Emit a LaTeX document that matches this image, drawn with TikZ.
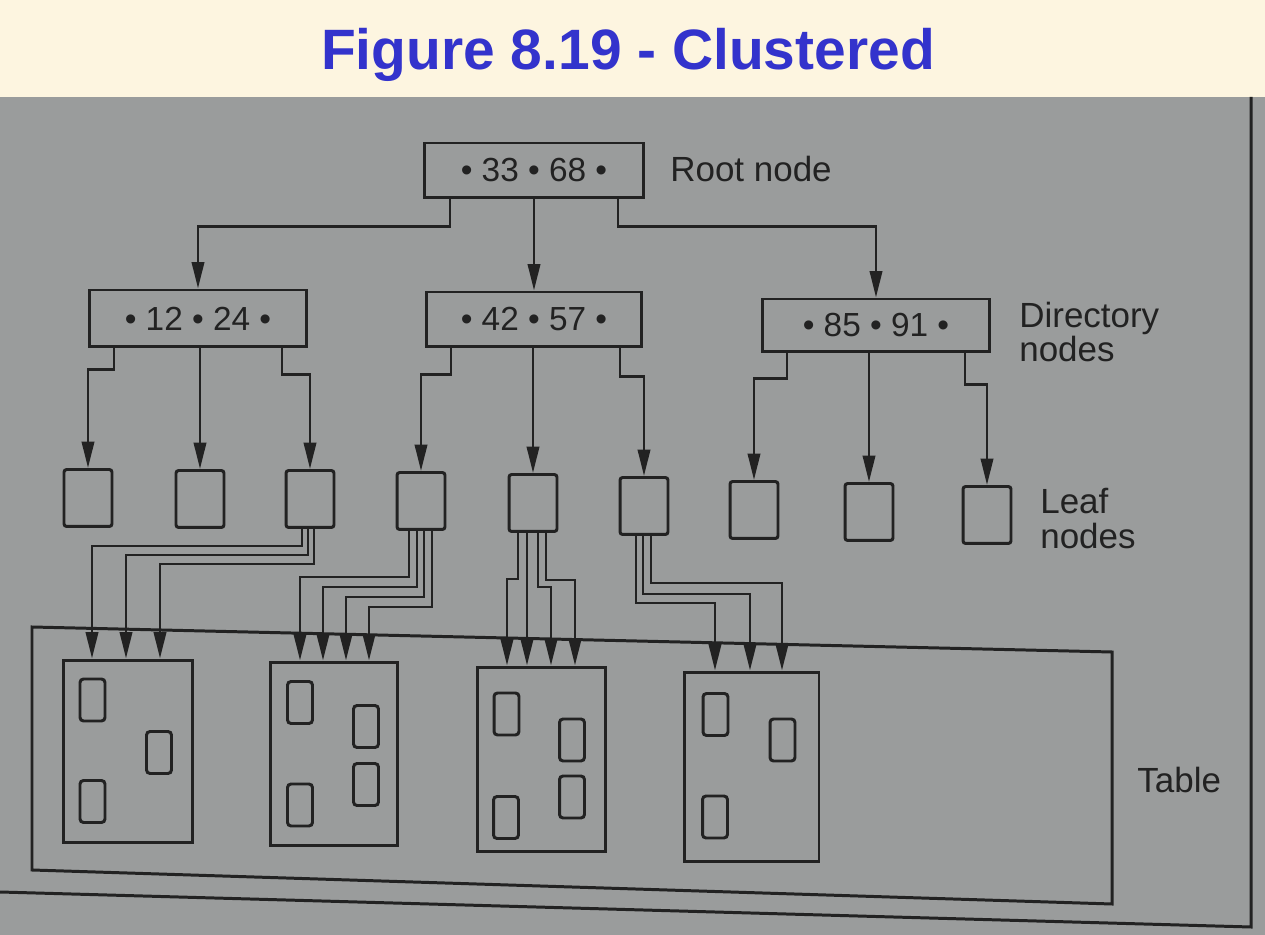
\documentclass[tikz,border=0pt]{standalone}
\usepackage{fontspec}
\setmainfont{Liberation Sans}
\usepackage{xcolor}
\usepackage{tikz}
\usetikzlibrary{arrows.meta,calc}
\definecolor{ink}{RGB}{34,34,34}
\definecolor{bgphoto}{RGB}{154,156,156}
\definecolor{bgpaper}{RGB}{253,245,224}
\definecolor{titleblue}{RGB}{51,51,204}
\tikzset{
keybox/.style = {rectangle, draw=ink, line width=1.7pt, minimum width=#1,
                 minimum height=1.1cm, inner sep=0pt, text=ink,
                 font=\fontsize{19}{20}\selectfont},
keybox/.default = 4.4cm % width of the index boxes
}
\tikzset{
leaf/.style = {rectangle, rounded corners=1.5pt, draw=ink, line width=1.7pt,
               minimum width=0.96cm, minimum height=1.14cm, inner sep=0pt},
datapage/.style = {rectangle, draw=ink, line width=1.7pt, minimum width=#1,
                   minimum height=3.7cm, inner sep=0pt},
datapage/.default = 2.6cm, % width of a data page
rec/.style = {rectangle, rounded corners=2pt, draw=ink, line width=1.7pt,
              minimum width=0.5cm, minimum height=0.84cm, inner sep=0pt},
lbl/.style = {text=ink, inner sep=0pt, font=\fontsize{19.9}{19.9}\selectfont},
arr/.style = {draw=ink, line width=1.5pt, -{Triangle[length=15pt,width=7pt]}}
}

\begin{document}
\begin{tikzpicture}[x=0.02cm, y=-0.02cm]
  % Background
    \useasboundingbox (0,0) rectangle (1265,935);
    \fill[bgphoto] (0,0) rectangle (1265,935);
    \fill[bgpaper] (0,0) rectangle (1265,97);
    \node[anchor=base, text=titleblue, font=\bfseries\fontsize{32.4}{36}\selectfont] (title) at (628,70) {Figure 8.19 - Clustered};

  % Page border
    \draw[ink, line width=1.7pt] (1251,97) -- (1251,927) -- (0,892);

  % Index boxes
    \node[keybox] (root) at (534,170.5) {• 33 • 68 •};
    \node[keybox=4.36cm, minimum height=1.14cm] (dir1) at (198,318.5) {• 12 • 24 •};
    \node[keybox=4.32cm] (dir2) at (534,319.5) {• 42 • 57 •};
    \node[keybox=4.56cm, minimum height=1.06cm] (dir3) at (876,325.5) {• 85 • 91 •};

  % Leaves
    \node[leaf] (leaf1) at (88,498) {};
    \node[leaf] (leaf2) at (200,499) {};
    \node[leaf] (leaf3) at (310,499) {};
    \node[leaf] (leaf4) at (421,501) {};
    \node[leaf] (leaf5) at (533,503) {};
    \node[leaf] (leaf6) at (644,506) {};
    \node[leaf] (leaf7) at (754,510) {};
    \node[leaf] (leaf8) at (869,512) {};
    \node[leaf] (leaf9) at (987,515) {};

  % Table and its pages
    \draw[ink, line width=1.7pt] (32,627) -- (1112,652) -- (1112,904) -- (32,870) -- cycle;
    \node[datapage, minimum height=3.66cm] (page1) at (128,751.5) {};
    \node[datapage=2.56cm, minimum height=3.68cm] (page2) at (334,754) {};
    \node[datapage=2.58cm] (page3) at (541.5,759.5) {};
    \node[datapage=2.7cm, minimum height=3.8cm] (page4) at (751.5,767) {};

  % Rows
    \node[rec] (r11) at (92.5,700) {};
    \node[rec] (r12) at (159,752.5) {};
    \node[rec] (r13) at (92.5,801.5) {};
    \node[rec] (r21) at (300,702.5) {};
    \node[rec] (r22) at (366,726.5) {};
    \node[rec] (r23) at (366,784.5) {};
    \node[rec] (r24) at (300,805) {};
    \node[rec] (r31) at (506.5,714) {};
    \node[rec] (r32) at (572,740) {};
    \node[rec] (r33) at (572,797) {};
    \node[rec] (r34) at (506,817.5) {};
    \node[rec] (r41) at (715.5,714.5) {};
    \node[rec] (r42) at (782.5,740) {};
    \node[rec] (r43) at (715,817) {};

  % Labels
    \node[lbl, anchor=base west] (rootlbl) at (670,182) {Root node};
    \node[lbl, anchor=west, align=left] (dirlbl) at (1019,332) {Directory\\nodes};
    \node[lbl, anchor=west, align=left] (leaflbl) at (1040,519) {Leaf\\nodes};
    \node[lbl, anchor=base west] (tablelbl) at (1137,792) {Table};

  % Lines root -> directory
    \draw[arr] ($(root.south)+(-84,0)$) -- ++(0,27) -| (dir1);
    \draw[arr] (root) -- (dir2);
    \draw[arr] ($(root.south)+(84,0)$) -- ++(0,27) -| (dir3);

  % Lines directory -> leaves
    \draw[arr] ($(dir1.south)+(-84,0)$) -- ++(0,21) -| (leaf1);
    \draw[arr] (dir1.south -| leaf2) -- (leaf2);
    \draw[arr] ($(dir1.south)+(84,0)$) -- ++(0,26) -| (leaf3);
    \draw[arr] ($(dir2.south)+(-83,0)$) -- ++(0,26) -| (leaf4);
    \draw[arr] (dir2.south -| leaf5) -- (leaf5);
    \draw[arr] ($(dir2.south)+(86,0)$) -- ++(0,28) -| (leaf6);
    \draw[arr] ($(dir3.south)+(-89,0)$) -- ++(0,25) -| (leaf7);
    \draw[arr] (dir3.south -| leaf8) -- (leaf8);
    \draw[arr] ($(dir3.south)+(89,0)$) -- ++(0,31) -| (leaf9);

  % Lines leaves -> pages
    \draw[arr] ($(leaf3.south)+(-8,0)$) -- ++(0,17) -| ($(page1.north)+(-36,0)$);
    \draw[arr] ($(leaf3.south)+(-2,0)$) -- ++(0,26) -| ($(page1.north)+(-2,0)$);
    \draw[arr] ($(leaf3.south)+(4,0)$) -- ++(0,35) -| ($(page1.north)+(32,0)$);

    \draw[arr] ($(leaf4.south)+(-12,0)$) -- ++(0,46) -| ($(page2.north)+(-34,0)$);
    \draw[arr] ($(leaf4.south)+(-4,0)$) -- ++(0,56) -| ($(page2.north)+(-11,0)$);
    \draw[arr] ($(leaf4.south)+(3,0)$) -- ++(0,66) -| ($(page2.north)+(12,0)$);
    \draw[arr] ($(leaf4.south)+(11,0)$) -- ++(0,76) -| ($(page2.north)+(35,0)$);

    \draw[arr] ($(leaf5.south)+(-15,0)$) -- ++(0,46) -| ($(page3.north)+(-34.5,0)$);
    \draw[arr] ($(leaf5.south)+(-6,0)$) -- ($(page3.north)+(-14.5,0)$);
    \draw[arr] ($(leaf5.south)+(5,0)$) -- ++(0,54) -| ($(page3.north)+(9.5,0)$);
    \draw[arr] ($(leaf5.south)+(13,0)$) -- ++(0,47) -| ($(page3.north)+(33.5,0)$);

    \draw[arr] ($(leaf6.south)+(-8,0)$) -- ++(0,67) -| ($(page4.north)+(-36.5,0)$);
    \draw[arr] ($(leaf6.south)+(-1,0)$) -- ++(0,58) -| ($(page4.north)+(-1.5,0)$);
    \draw[arr] ($(leaf6.south)+(7,0)$) -- ++(0,47) -| ($(page4.north)+(30.5,0)$);
\end{tikzpicture}
\end{document}
